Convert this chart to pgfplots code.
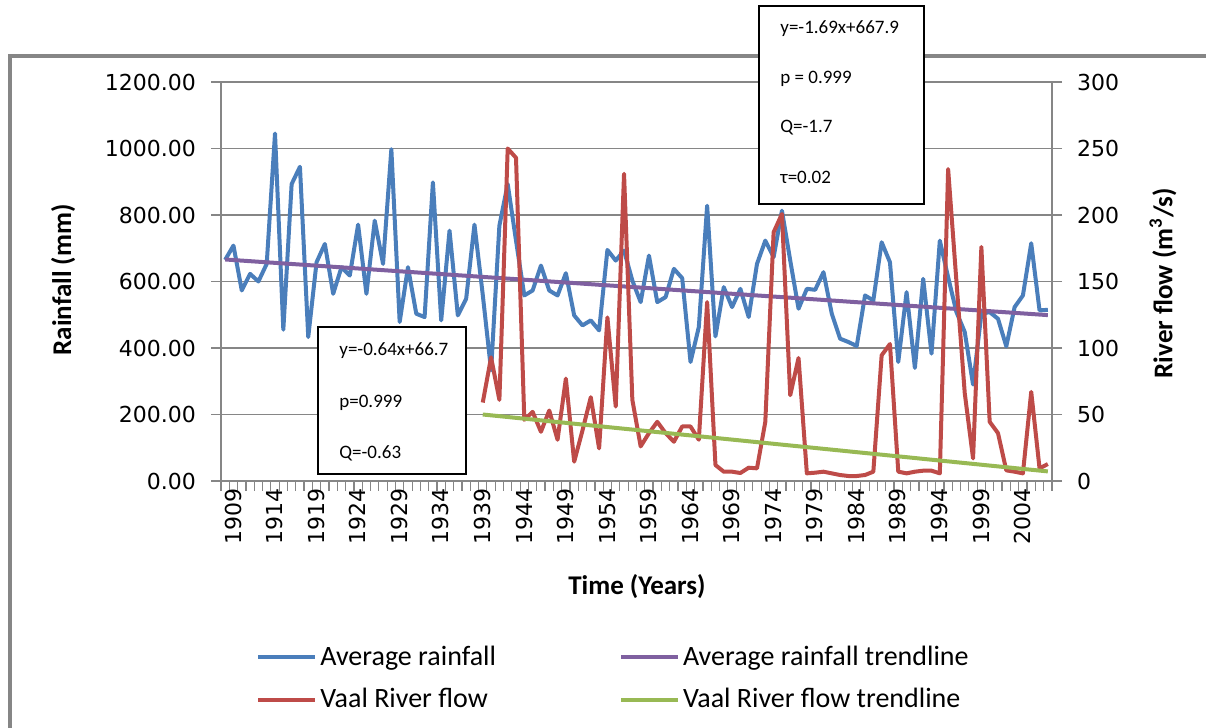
\documentclass[border=0pt]{standalone}
\usepackage{fontspec}
\setmainfont{Carlito}
\newfontfamily\tickfont{DejaVu Sans}
\usepackage{pgfplots}
\usepackage{pgfplotstable}
\pgfplotsset{compat=1.18}

\definecolor{rainblue}{HTML}{4A7EBB}
\definecolor{flowred}{HTML}{BE4B48}
\definecolor{trendpurple}{HTML}{7F60A0}
\definecolor{trendgreen}{HTML}{98B954}
\definecolor{axisgray}{HTML}{868686}

% average rainfall (mm)
\pgfplotstableread{
year rain
1909 665
1910 708
1911 573
1912 623
1913 600
1914 653
1915 1045
1916 455
1917 893
1918 945
1919 433
1920 658
1921 713
1922 563
1923 643
1924 618
1925 771
1926 563
1927 783
1928 653
1929 998
1930 478
1931 643
1932 503
1933 493
1934 898
1935 483
1936 753
1937 498
1938 548
1939 771
1940 560
1941 333
1942 768
1943 893
1944 723
1945 558
1946 573
1947 648
1948 573
1949 558
1950 625
1951 498
1952 468
1953 483
1954 453
1955 695
1956 663
1957 693
1958 603
1959 538
1960 678
1961 538
1962 553
1963 638
1964 610
1965 358
1966 463
1967 828
1968 435
1969 583
1970 523
1971 578
1972 493
1973 653
1974 723
1975 673
1976 813
1977 663
1978 518
1979 578
1980 575
1981 628
1982 503
1983 428
1984 418
1985 406
1986 558
1987 543
1988 718
1989 658
1990 358
1991 568
1992 340
1993 608
1994 383
1995 723
1996 613
1997 508
1998 448
1999 290
2000 503
2001 508
2002 488
2003 405
2004 523
2005 558
2006 715
2007 513
2008 515
}\raindata

% Vaal River flow (m3/s)
\pgfplotstableread{
year flow
1940 59
1941 93
1942 61
1943 250
1944 243
1945 46
1946 52
1947 37
1948 53
1949 31
1950 77
1951 14.5
1952 38
1953 63
1954 24.5
1955 123
1956 56
1957 231
1958 61
1959 26
1960 36
1961 44.5
1962 36
1963 29.5
1964 41
1965 41
1966 31
1967 134.5
1968 12
1969 7
1970 7
1971 6
1972 10
1973 9.5
1974 44.5
1975 187
1976 200.75
1977 64.5
1978 92.5
1979 5.75
1980 6.25
1981 7
1982 5.75
1983 4.5
1984 3.75
1985 3.75
1986 4.5
1987 7
1988 94.5
1989 103
1990 7
1991 5.75
1992 7
1993 7.75
1994 7.75
1995 5.75
1996 234.5
1997 150
1998 66
1999 17
2000 176
2001 44.5
2002 36
2003 8
2004 7
2005 5.75
2006 67
2007 9.5
2008 12.75
}\flowdata

\pgfplotsset{
  baseaxis/.style={
    scale only axis, width=415.5pt, height=199.5pt,
    at={(110.5pt,123.5pt)}, anchor=south west,
    xmin=1908.5, xmax=2008.5,
    tick align=outside,
    ticklabel style={font=\tickfont\fontsize{11}{13}\selectfont},
    axis line style={axisgray, line width=0.6pt},
    tick style={axisgray, line width=0.6pt},
    major tick length=5pt,
    label style={font=\bfseries\fontsize{13.5}{16}\selectfont},
  },
  series/.style={line width=2pt, line join=round, no markers},
}

\begin{document}
\begin{tikzpicture}
\clip (0,0) rectangle (603pt,364pt);
\draw[axisgray, line width=2pt] (4.75pt,-5pt) -- (4.75pt,336pt) -- (610pt,336pt);

\begin{axis}[baseaxis,
  axis x line*=bottom, axis y line*=left,
  ymin=0, ymax=1200, ytick={0,200,...,1200},
  yticklabels={0.00,200.00,400.00,600.00,800.00,1000.00,1200.00},
  ymajorgrids, grid style={axisgray, line width=0.6pt},
  yticklabel style={xshift=-4pt},
  xtick={1908.5,1909.5,...,2008.5},
  xticklabels={},
  extra x ticks={1909,1914,1919,1924,1929,1934,1939,1944,1949,1954,1959,1964,1969,1974,1979,1984,1989,1994,1999,2004},
  extra x tick labels={1909,1914,1919,1924,1929,1934,1939,1944,1949,1954,1959,1964,1969,1974,1979,1984,1989,1994,1999,2004},
  extra x tick style={major tick length=0pt,
    xticklabel style={rotate=90, anchor=east, yshift=-4pt}},
  xlabel={Time (Years)},
  xlabel style={at={(axis description cs:0.5006,-0.2657)}, anchor=center},
  ylabel={Rainfall (mm)},
  ylabel style={at={(axis description cs:-0.190,0.504)}, anchor=center},
]
\addplot[series, rainblue] table[x=year, y=rain] {\raindata};
\addplot[series, trendpurple] coordinates {(1909,666.2) (2008,498.9)};
\end{axis}

\begin{axis}[baseaxis,
  axis x line=none, axis y line*=right,
  ymin=0, ymax=300, ytick={0,50,...,300},
  yticklabels={0,50,100,150,200,250,300},
  yticklabel style={xshift=4pt},
  ylabel={River flow (m\textsuperscript{3}/s)},
  ylabel style={at={(axis description cs:1.1336,0.496)}, anchor=center,
    font=\bfseries\fontsize{13.5}{16}\selectfont},
  legend style={at={(axis description cs:0.0421,-0.405)}, anchor=north west,
    draw=none, fill=none, inner sep=0pt,
    font=\fontsize{14}{16}\selectfont,
    nodes={inner sep=1.5pt},
    /tikz/every even column/.append style={column sep=60pt},
    row sep=7pt},
  legend columns=2,
  legend cell align=left,
  legend image code/.code={\draw[#1, line width=2pt] (0pt,0pt) -- (28.5pt,0pt);},
]
\addlegendimage{series, rainblue}
\addlegendentry{Average rainfall}
\addlegendimage{series, trendpurple}
\addlegendentry{Average rainfall trendline}
\addplot[series, flowred] table[x=year, y=flow] {\flowdata};
\addlegendentry{Vaal River flow}
\addplot[series, trendgreen] coordinates {(1940,50) (2008,7.2)};
\addlegendentry{Vaal River flow trendline}
\end{axis}

\draw[black, line width=1pt, fill=white] (379.5pt,262pt) rectangle (462pt,361pt);
\begin{scope}[every node/.style={anchor=west, inner sep=0pt, font=\fontsize{9.5}{11}\selectfont}]
\node at (390pt,349.5pt) {y=-1.69x+667.9};
\node at (390pt,324.5pt) {p = 0.999};
\node at (390pt,300pt) {Q=-1.7};
\node at (390pt,275.5pt) {τ=0.02};
\end{scope}

\draw[black, line width=1pt, fill=white] (159pt,127pt) rectangle (233pt,200.5pt);
\begin{scope}[every node/.style={anchor=west, inner sep=0pt, font=\fontsize{9.5}{11}\selectfont}]
\node at (169.5pt,188.5pt) {y=-0.64x+66.7};
\node at (169.5pt,162.5pt) {p=0.999};
\node at (169.5pt,137.5pt) {Q=-0.63};
\end{scope}
\end{tikzpicture}
\end{document}
